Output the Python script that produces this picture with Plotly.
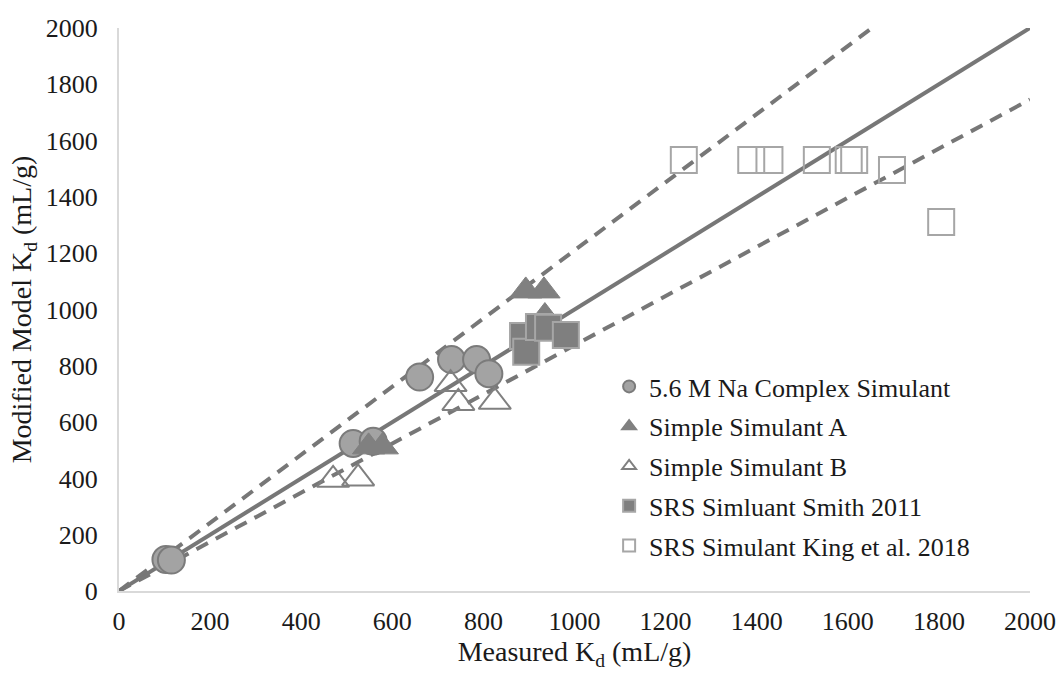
import plotly.graph_objects as go

# ---- data ----
circle_x = [103, 115, 514, 558, 660, 730, 785, 812]
circle_y = [112, 110, 524, 532, 760, 822, 822, 772]

tri_a_x = [548, 578, 893, 933, 935]
tri_a_y = [512, 512, 1066, 1066, 975]

tri_b_x = [470, 525, 728, 745, 825]
tri_b_y = [395, 400, 735, 668, 672]

sq_f_x = [887, 894, 922, 942, 981]
sq_f_y = [906, 850, 938, 935, 909]

sq_o_x = [1240, 1388, 1428, 1532, 1602, 1614, 1697, 1805]
sq_o_y = [1531, 1531, 1531, 1531, 1531, 1531, 1496, 1311]

names = ["5.6 M Na Complex Simulant", "Simple Simulant A", "Simple Simulant B",
         "SRS Simluant Smith 2011", "SRS Simulant King et al. 2018"]

line_x = [0, 2000]
upper_slope = 1.21
lower_slope = 0.873

FONT = "Liberation Serif"
LINE_COL = "#777777"
TXT = "#1a1a1a"

fig = go.Figure()

# reference lines
fig.add_trace(go.Scatter(x=line_x, y=[v * 1.0 for v in line_x], mode="lines",
                         line=dict(color=LINE_COL, width=4), showlegend=False, hoverinfo="skip"))
fig.add_trace(go.Scatter(x=line_x, y=[v * upper_slope for v in line_x], mode="lines",
                         line=dict(color=LINE_COL, width=4, dash="13px,9px"), showlegend=False, hoverinfo="skip"))
fig.add_trace(go.Scatter(x=line_x, y=[v * lower_slope for v in line_x], mode="lines",
                         line=dict(color=LINE_COL, width=4, dash="13px,9px"), showlegend=False, hoverinfo="skip"))

fig.add_trace(go.Scatter(x=circle_x, y=circle_y, mode="markers", name=names[0], legendgroup="a",
                         marker=dict(symbol="circle", size=27, color="#a3a3a3",
                                     line=dict(color="#7b7b7b", width=2))))
fig.add_trace(go.Scatter(x=tri_a_x, y=tri_a_y, mode="markers", name=names[1], legendgroup="b",
                         marker=dict(symbol="triangle-up", size=28, color="#808080",
                                     line=dict(color="#808080", width=1))))
fig.add_trace(go.Scatter(x=tri_b_x, y=tri_b_y, mode="markers", name=names[2], legendgroup="c",
                         marker=dict(symbol="triangle-up-open", size=28, color="#808080",
                                     line=dict(color="#808080", width=2))))
fig.add_trace(go.Scatter(x=sq_f_x, y=sq_f_y, mode="markers", name=names[3], legendgroup="d",
                         marker=dict(symbol="square", size=26, color="#7f7f7f",
                                     line=dict(color="#a6a6a6", width=2))))
fig.add_trace(go.Scatter(x=sq_o_x, y=sq_o_y, mode="markers", name=names[4], legendgroup="e",
                         marker=dict(symbol="square-open", size=26, color="#a6a6a6",
                                     line=dict(color="#a6a6a6", width=2))))

ticks = list(range(0, 2001, 200))

fig.update_layout(
    width=1058, height=673,
    margin=dict(l=119, r=28, t=28, b=82),
    paper_bgcolor="white", plot_bgcolor="white",
    font=dict(family=FONT, size=26, color=TXT),
    showlegend=True,
    legend=dict(x=0.538, y=0.405, xanchor="left", yanchor="top",
                font=dict(family=FONT, size=26, color=TXT),
                bgcolor="rgba(0,0,0,0)", tracegroupgap=3, itemsizing="constant"),
    xaxis=dict(range=[0, 2000], tickvals=ticks, ticktext=[str(t) for t in ticks],
               showgrid=False, zeroline=False, showline=True, linecolor="#d9d9d9", linewidth=2,
               ticks="", ticklabelstandoff=6, automargin=False,
               tickfont=dict(family=FONT, size=26, color=TXT),
               title=dict(text="Measured K<sub>d</sub> (mL/g)", standoff=4,
                          font=dict(family=FONT, size=28, color=TXT))),
    yaxis=dict(range=[0, 2000], tickvals=ticks, ticktext=[str(t) for t in ticks],
               showgrid=False, zeroline=False, showline=True, linecolor="#d9d9d9", linewidth=2,
               ticks="", ticklabelstandoff=14, automargin=False,
               tickfont=dict(family=FONT, size=26, color=TXT),
               title=dict(text="Modified Model K<sub>d</sub> (mL/g)", standoff=6,
                          font=dict(family=FONT, size=28, color=TXT))),
)

fig.write_html("out.html")
